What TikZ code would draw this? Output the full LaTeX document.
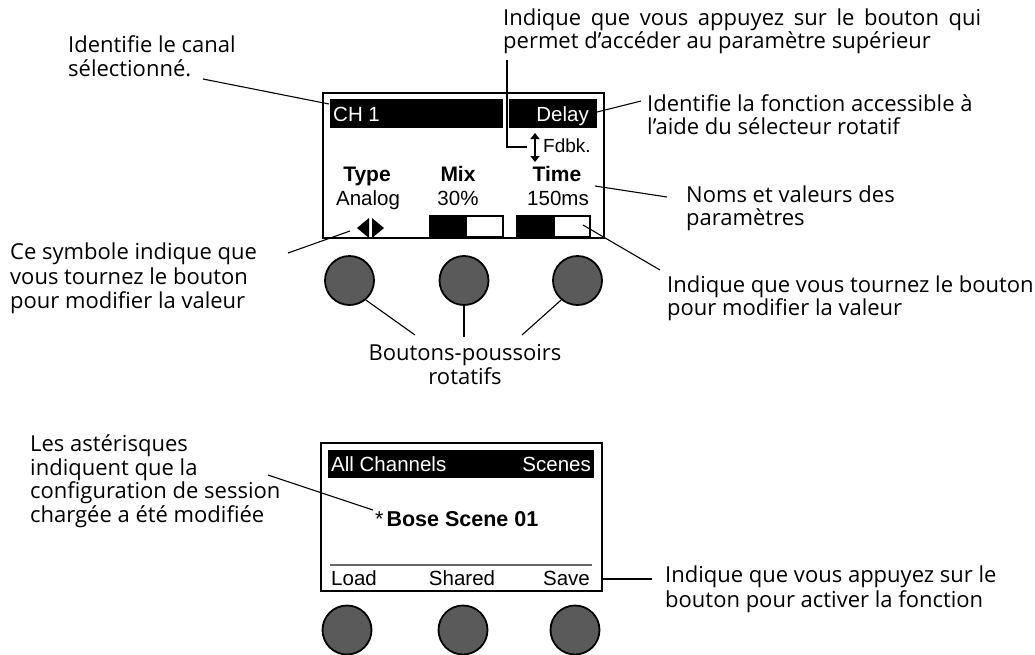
\documentclass[tikz,border=0pt]{standalone}
\usepackage{fontspec}
\setmainfont{Open Sans}
\newfontfamily\scrfont{Liberation Sans}
\usetikzlibrary{arrows.meta}
\definecolor{knobgray}{HTML}{5A5A5A}
\definecolor{rulegray}{HTML}{666666}
\tikzset{
  annot/.style={font=\fontsize{22}{23.5}\selectfont, align=left, inner sep=0pt, anchor=west},
  leader/.style={draw=black, line width=1.1pt},
  frame/.style={draw=black, line width=2pt},
  scrw/.style={font=\scrfont\fontsize{20.5}{22}\selectfont, text=white, inner sep=0pt},
  scrb/.style={font=\scrfont\fontsize{20.5}{22}\selectfont, text=black, inner sep=0pt},
  scrbold/.style={font=\scrfont\bfseries\fontsize{21}{22}\selectfont, text=black, inner sep=0pt},
  knob/.style={circle, fill=knobgray, draw=black, line width=1.8pt, minimum size=49pt, inner sep=0pt},
  barbox/.style={draw=black, line width=1.6pt}
}
\begin{document}
\begin{tikzpicture}[x=1pt,y=-1pt]
\useasboundingbox (0,0) rectangle (1035,654);
\clip (0,0) rectangle (1035,654);

% ---------- top screen ----------
\draw[frame] (323,93) rectangle (604,238);
\fill[black] (330,99) rectangle (503,128);
\fill[black] (509,99) rectangle (597,128);
\node[scrw, anchor=base west] (ch) at (333,121) {CH 1};
\node[scrw, anchor=base east] (delay) at (589,121) {Delay};
\draw[line width=1.8pt, {Triangle[length=6pt,width=9pt]}-{Triangle[length=6pt,width=9pt]}] (535,133) -- (535,162);
\node[font=\scrfont\fontsize{19}{20}\selectfont, inner sep=0pt, anchor=base west] (fdbk) at (543,152) {Fdbk.};
\node[scrbold, anchor=base] (type) at (367,181) {Type};
\node[scrbold, anchor=base] (mix) at (458,181) {Mix};
\node[scrbold, anchor=base] (time) at (557,181) {Time};
\node[scrb, anchor=base] (analog) at (368,205.5) {Analog};
\node[scrb, anchor=base] (pct) at (458,205.5) {30\%};
\node[scrb, anchor=base] (ms) at (558,205.5) {150ms};
\fill[black] (369,218) -- (357,228) -- (369,238) -- cycle;
\fill[black] (372,218) -- (384,228) -- (372,238) -- cycle;
\fill[black] (430,216) rectangle (467,237);
\draw[barbox] (430,216) rectangle (503,237);
\fill[black] (517,216) rectangle (555,237);
\draw[barbox] (517,216) rectangle (590,237);

% knobs top
\node[knob] (k1) at (349.5,280.5) {};
\node[knob] (k2) at (464,280.5) {};
\node[knob] (k3) at (577.5,280.5) {};
\node[annot, anchor=center, align=center] (boutons) at (465,364.5) {Boutons-poussoirs\\rotatifs};
\coordinate (b1) at (415,335);
\coordinate (b2) at (464,337);
\coordinate (b3) at (522,335);
\draw[leader] (k1.-50) -- (b1);
\draw[leader, line width=1.6pt] (k2.south) -- (b2);
\draw[leader] (k3.-130) -- (b3);

% annotations top
\node[annot] (canal) at (68,56) {Identifie le canal\\sélectionné.};
\coordinate (canalA) at (203,79);
\coordinate (canalB) at (329,104);
\draw[leader] (canalA) -- (canalB);

\node[annot] (sup) at (503,31.5) {\makebox[478pt][s]{Indique que vous appuyez sur le bouton qui}\\permet d’accéder au paramètre supérieur};
\coordinate (supA) at (507,60);
\coordinate (supB) at (507,147);
\coordinate (supC) at (527,147);
\draw[leader, line width=1.5pt] (supA) -- (supB) -- (supC);

\node[annot] (fonction) at (647,114.5) {Identifie la fonction accessible à\\l’aide du sélecteur rotatif};
\coordinate (delA) at (597,112);
\coordinate (delB) at (641,101);
\draw[leader] (delA) -- (delB);

\node[annot] (noms) at (686,208.5) {Noms et valeurs des\\paramètres};
\coordinate (nomsA) at (595,186);
\coordinate (nomsB) at (667,197);
\draw[leader] (nomsA) -- (nomsB);

\node[annot] (tourne) at (667,298.5) {Indique que vous tournez le bouton\\pour modifier la valeur};
\coordinate (tA) at (583,225);
\coordinate (tB) at (660,270);
\draw[leader] (tA) -- (tB);

\node[annot, font=\fontsize{22}{24.5}\selectfont] (symbole) at (10,278.5) {Ce symbole indique que\\vous tournez le bouton\\pour modifier la valeur};
\coordinate (sA) at (288,253);
\coordinate (sB) at (350,231);
\draw[leader] (sA) -- (sB);

% ---------- bottom screen ----------
\draw[frame] (321,443) rectangle (602,591);
\fill[black] (328,450) rectangle (594,478);
\node[scrw, anchor=base west] (allch) at (331,471.5) {All Channels};
\node[scrw, anchor=base east] (scenes) at (591,471.5) {Scenes};
\node[scrb, anchor=base west, font=\scrfont\fontsize{21.5}{22}\selectfont] (bose) at (375,526.5) {*\hspace{3pt}\textbf{Bose Scene 01}};
\draw[rulegray, line width=1.6pt] (330,565) -- (592,565);
\node[scrb, anchor=base west] (load) at (331,585.5) {Load};
\node[scrb, anchor=base] (shared) at (462,585.5) {Shared};
\node[scrb, anchor=base east] (save) at (590,585.5) {Save};

\node[knob] (k4) at (347,630) {};
\node[knob] (k5) at (463,630) {};
\node[knob] (k6) at (575,630) {};

\node[annot] (aster) at (30,481) {Les astérisques\\indiquent que la\\configuration de session\\chargée a été modifiée};
\coordinate (aA) at (268,475);
\coordinate (aB) at (373,510);
\draw[leader] (aA) -- (aB);

\node[annot, font=\fontsize{22}{25.5}\selectfont] (active) at (665,589.5) {Indique que vous appuyez sur le\\bouton pour activer la fonction};
\coordinate (svA) at (603,579);
\coordinate (svB) at (652,579);
\draw[leader, line width=1.5pt] (svA) -- (svB);
\end{tikzpicture}
\end{document}
